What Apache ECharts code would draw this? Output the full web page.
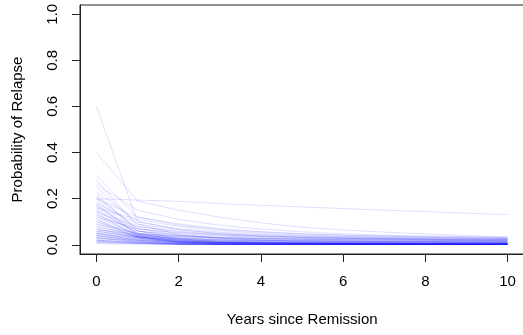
<!DOCTYPE html>
<html>
<head>
<meta charset="utf-8">
<script src="https://cdn.jsdelivr.net/npm/echarts@6.0.0/dist/echarts.min.js"></script>
<style>
  html, body { margin: 0; padding: 0; background: #fff; }
  #relapse { width: 523px; height: 335px; }
</style>
</head>
<body>
<div id="relapse"></div>
<script>
const years = [0, 1, 2, 3, 4, 5, 6, 7, 8, 9, 10];
const xTicks = [0, 2, 4, 6, 8, 10];
const yTicks = [0, 0.2, 0.4, 0.6, 0.8, 1.0];

// one row per patient, probability of relapse at each year
const highStart = [
  [0.60, 0.10, 0.065, 0.048, 0.038, 0.032, 0.028, 0.025, 0.022, 0.020, 0.018],
  [0.40, 0.19, 0.150, 0.120, 0.095, 0.076, 0.064, 0.055, 0.047, 0.040, 0.034],
  [0.20, 0.194, 0.188, 0.179, 0.171, 0.164, 0.157, 0.150, 0.144, 0.137, 0.131],
  [0.30, 0.12, 0.085, 0.066, 0.055, 0.047, 0.041, 0.037, 0.034, 0.031, 0.029],
  [0.28, 0.08, 0.055, 0.043, 0.036, 0.031, 0.028, 0.026, 0.024, 0.022, 0.021],
  [0.26, 0.15, 0.110, 0.085, 0.068, 0.056, 0.048, 0.042, 0.038, 0.035, 0.032],
  [0.25, 0.09, 0.045, 0.028, 0.020, 0.016, 0.013, 0.012, 0.011, 0.010, 0.009],
  [0.23, 0.10, 0.070, 0.055, 0.045, 0.039, 0.035, 0.032, 0.030, 0.028, 0.026],
  [0.22, 0.06, 0.025, 0.013, 0.009, 0.007, 0.006, 0.005, 0.005, 0.004, 0.004],
  [0.21, 0.07, 0.048, 0.038, 0.032, 0.028, 0.025, 0.023, 0.021, 0.020, 0.019]
];
const midStart = [
  [0.20, 0.12, 0.090, 0.070, 0.057, 0.048, 0.042, 0.038, 0.035, 0.033, 0.031],
  [0.20, 0.07, 0.040, 0.028, 0.022, 0.019, 0.017, 0.015, 0.014, 0.013, 0.012],
  [0.19, 0.06, 0.030, 0.020, 0.016, 0.014, 0.012, 0.011, 0.010, 0.009, 0.009],
  [0.18, 0.09, 0.065, 0.050, 0.042, 0.036, 0.032, 0.029, 0.027, 0.025, 0.024],
  [0.18, 0.04, 0.015, 0.008, 0.006, 0.005, 0.004, 0.003, 0.003, 0.003, 0.003],
  [0.17, 0.05, 0.020, 0.010, 0.007, 0.005, 0.004, 0.004, 0.003, 0.003, 0.003],
  [0.17, 0.06, 0.040, 0.031, 0.026, 0.023, 0.021, 0.019, 0.018, 0.017, 0.016],
  [0.16, 0.11, 0.080, 0.062, 0.050, 0.042, 0.037, 0.034, 0.031, 0.029, 0.027],
  [0.16, 0.05, 0.022, 0.012, 0.009, 0.007, 0.006, 0.006, 0.005, 0.005, 0.005],
  [0.15, 0.045, 0.025, 0.015, 0.011, 0.009, 0.008, 0.007, 0.007, 0.006, 0.006],
  [0.15, 0.05, 0.034, 0.027, 0.023, 0.020, 0.018, 0.017, 0.016, 0.015, 0.014],
  [0.14, 0.08, 0.058, 0.046, 0.039, 0.034, 0.031, 0.028, 0.026, 0.025, 0.024],
  [0.14, 0.035, 0.012, 0.006, 0.004, 0.003, 0.003, 0.002, 0.002, 0.002, 0.002],
  [0.13, 0.04, 0.018, 0.010, 0.007, 0.006, 0.005, 0.005, 0.004, 0.004, 0.004],
  [0.13, 0.06, 0.042, 0.033, 0.028, 0.024, 0.022, 0.020, 0.019, 0.018, 0.017],
  [0.12, 0.045, 0.026, 0.017, 0.013, 0.011, 0.010, 0.009, 0.008, 0.008, 0.007],
  [0.12, 0.07, 0.052, 0.042, 0.036, 0.032, 0.029, 0.027, 0.025, 0.024, 0.023],
  [0.11, 0.04, 0.018, 0.011, 0.008, 0.007, 0.006, 0.006, 0.005, 0.005, 0.005],
  [0.11, 0.03, 0.010, 0.005, 0.003, 0.003, 0.002, 0.002, 0.002, 0.002, 0.002],
  [0.10, 0.045, 0.030, 0.023, 0.019, 0.017, 0.015, 0.014, 0.013, 0.012, 0.012],
  [0.10, 0.035, 0.014, 0.007, 0.005, 0.004, 0.004, 0.003, 0.003, 0.003, 0.003]
];
const lowStart = [
  [0.09, 0.05, 0.038, 0.031, 0.027, 0.024, 0.022, 0.021, 0.020, 0.019, 0.018],
  [0.09, 0.035, 0.013, 0.006, 0.004, 0.004, 0.003, 0.003, 0.003, 0.003, 0.003],
  [0.08, 0.035, 0.016, 0.010, 0.007, 0.006, 0.006, 0.005, 0.005, 0.005, 0.004],
  [0.08, 0.04, 0.028, 0.022, 0.019, 0.017, 0.016, 0.015, 0.014, 0.013, 0.013],
  [0.07, 0.03, 0.010, 0.005, 0.003, 0.003, 0.003, 0.002, 0.002, 0.002, 0.002],
  [0.07, 0.035, 0.022, 0.015, 0.013, 0.011, 0.010, 0.010, 0.009, 0.009, 0.008],
  [0.065, 0.045, 0.036, 0.031, 0.028, 0.026, 0.025, 0.024, 0.023, 0.022, 0.022],
  [0.06, 0.03, 0.012, 0.007, 0.006, 0.005, 0.005, 0.004, 0.004, 0.004, 0.004],
  [0.06, 0.035, 0.019, 0.013, 0.011, 0.010, 0.009, 0.009, 0.008, 0.008, 0.008],
  [0.055, 0.035, 0.026, 0.021, 0.018, 0.016, 0.015, 0.014, 0.014, 0.013, 0.013],
  [0.05, 0.025, 0.009, 0.004, 0.004, 0.003, 0.003, 0.003, 0.003, 0.002, 0.002],
  [0.05, 0.03, 0.015, 0.010, 0.009, 0.008, 0.007, 0.007, 0.006, 0.006, 0.006],
  [0.05, 0.02, 0.006, 0.002, 0.002, 0.002, 0.002, 0.001, 0.001, 0.001, 0.001],
  [0.045, 0.03, 0.022, 0.018, 0.016, 0.014, 0.013, 0.012, 0.012, 0.011, 0.011],
  [0.04, 0.02, 0.007, 0.004, 0.003, 0.003, 0.002, 0.002, 0.002, 0.002, 0.002],
  [0.04, 0.025, 0.012, 0.008, 0.007, 0.006, 0.006, 0.005, 0.005, 0.005, 0.005],
  [0.04, 0.015, 0.004, 0.002, 0.001, 0.001, 0.001, 0.001, 0.001, 0.001, 0.001],
  [0.035, 0.022, 0.014, 0.011, 0.010, 0.009, 0.008, 0.008, 0.007, 0.007, 0.007],
  [0.03, 0.015, 0.005, 0.002, 0.002, 0.002, 0.001, 0.001, 0.001, 0.001, 0.001],
  [0.03, 0.02, 0.009, 0.006, 0.005, 0.005, 0.004, 0.004, 0.004, 0.004, 0.003],
  [0.03, 0.012, 0.003, 0.001, 0.001, 0.001, 0.001, 0.001, 0.001, 0.001, 0.001],
  [0.025, 0.018, 0.011, 0.009, 0.008, 0.007, 0.007, 0.006, 0.006, 0.006, 0.006],
  [0.02, 0.01, 0.003, 0.002, 0.001, 0.001, 0.001, 0.001, 0.001, 0.001, 0.001],
  [0.02, 0.012, 0.006, 0.004, 0.003, 0.003, 0.003, 0.003, 0.002, 0.002, 0.002],
  [0.02, 0.008, 0.002, 0.001, 0.001, 0.001, 0.001, 0.001, 0.001, 0.001, 0.001],
  [0.015, 0.009, 0.004, 0.003, 0.003, 0.002, 0.002, 0.002, 0.002, 0.002, 0.002],
  [0.015, 0.006, 0.002, 0.001, 0.001, 0.001, 0.001, 0.001, 0.001, 0.001, 0.001],
  [0.01, 0.005, 0.002, 0.001, 0.001, 0.001, 0.001, 0.001, 0.001, 0.001, 0.001],
  [0.01, 0.007, 0.003, 0.003, 0.002, 0.002, 0.002, 0.002, 0.002, 0.002, 0.002],
  [0.005, 0.003, 0.001, 0.001, 0.001, 0.001, 0.001, 0.001, 0.001, 0.001, 0.001]
];

const curves = highStart.concat(midStart, lowStart);
const font = "Liberation Sans, Arial, sans-serif";
const ink = "#222";

const chart = echarts.init(document.getElementById("relapse"), null, { renderer: "canvas" });

const option = {
  animation: false,
  grid: {
    left: 80,
    top: 5,
    right: -1,
    bottom: 81,
    show: true,
    borderColor: ink,
    borderWidth: 1,
    backgroundColor: "transparent",
    outerBoundsMode: "none"
  },
  xAxis: {
    type: "value",
    min: -0.4,
    max: 10.4,
    name: "Years since Remission",
    nameLocation: "middle",
    nameGap: 58,
    nameTextStyle: { fontFamily: font, fontSize: 15, color: "#000" },
    splitLine: { show: false },
    axisLine: { show: true, onZero: false, lineStyle: { color: ink } },
    axisTick: {
      show: true,
      length: 8,
      customValues: xTicks,
      lineStyle: { color: ink }
    },
    axisLabel: {
      customValues: xTicks,
      margin: 20,
      fontFamily: font,
      fontSize: 15,
      color: "#000"
    }
  },
  yAxis: {
    type: "value",
    min: -0.04,
    max: 1.04,
    name: "Probability of Relapse",
    nameLocation: "middle",
    nameGap: 55,
    nameTextStyle: { fontFamily: font, fontSize: 15, color: "#000" },
    splitLine: { show: false },
    axisLine: { show: true, onZero: false, lineStyle: { color: ink } },
    axisTick: {
      show: true,
      length: 8,
      customValues: yTicks,
      lineStyle: { color: ink }
    },
    axisLabel: {
      customValues: yTicks,
      rotate: 90,
      margin: 20,
      fontFamily: font,
      fontSize: 15,
      color: "#000",
      formatter: (v) => v.toFixed(1)
    }
  },
  series: curves.map((c) => ({
    type: "line",
    data: years.map((x, i) => [x, c[i]]),
    symbol: "none",
    silent: true,
    lineStyle: { color: "rgba(0, 0, 255, 0.13)", width: 1 }
  }))
};

chart.setOption(option);
</script>
</body>
</html>
